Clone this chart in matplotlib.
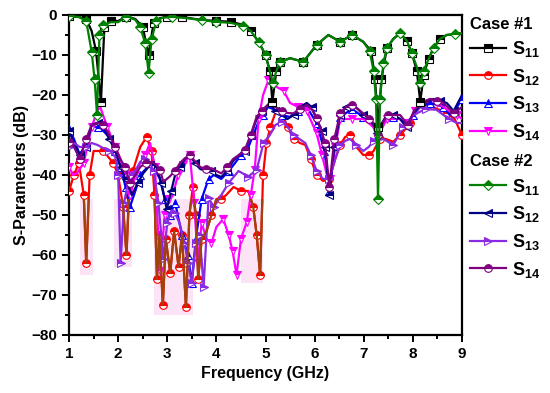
import matplotlib
matplotlib.use("Agg")
import numpy as np
from matplotlib import pyplot as plt
from matplotlib.patches import Rectangle

plt.rcParams["font.family"] = ["Liberation Sans", "DejaVu Sans"]
plt.rcParams["font.weight"] = "bold"
plt.rcParams["mathtext.fontset"] = "custom"
plt.rcParams["mathtext.rm"] = "Liberation Sans:bold"
plt.rcParams["mathtext.bf"] = "Liberation Sans:bold"
plt.rcParams["mathtext.default"] = "bf"

# ---- case #1 ----
f11_c1 = [1.0, 1.2, 1.35, 1.46, 1.55, 1.65, 1.72, 1.85, 2.0, 2.17, 2.35, 2.5, 2.62, 2.72, 2.85, 3.0,
          3.3, 3.67, 4.0, 4.3, 4.55, 4.7, 4.86, 5.0, 5.09, 5.14, 5.22, 5.3, 5.5, 5.77, 6.04, 6.28,
          6.52, 6.76, 6.99, 7.15, 7.23, 7.29, 7.36, 7.47, 7.6, 7.74, 7.88, 7.98, 8.08, 8.15, 8.22,
          8.32, 8.42, 8.55, 8.69, 8.85, 9.0]
s11_c1 = [-0.3, -0.5, -1, -4, -9, -21.7, -3, -1.5, -1.5, -0.4, -1, -3, -10, -2, -0.8, -0.5,
          -0.5, -1.2, -1.5, -1.7, -2.5, -4, -6.7, -10, -14, -21.7, -14, -11.7, -10.8, -11.7, -7.5, -5,
          -6.7, -5, -6.7, -9, -16, -28, -16, -8.3, -6, -4.6, -6.5, -9.6, -14, -21.7, -15,
          -11, -8.3, -6, -5, -4.8, -4.5]

f12_c1 = [1.0, 1.1, 1.2, 1.3, 1.35, 1.42, 1.5, 1.7, 1.9, 2.0, 2.1, 2.17, 2.22, 2.3, 2.45, 2.58,
          2.68, 2.74, 2.79, 2.84, 2.91, 2.97, 3.06, 3.14, 3.23, 3.3, 3.38, 3.45, 3.52, 3.58, 3.63,
          3.7, 3.8, 3.9, 4.0, 4.1, 4.2, 4.35, 4.5, 4.65, 4.75, 4.82, 4.89, 4.95, 5.02, 5.1, 5.2,
          5.33, 5.45, 5.57, 5.7, 5.81, 5.92, 6.04, 6.17, 6.3, 6.42, 6.52, 6.62, 6.72, 6.85, 6.99,
          7.1, 7.2, 7.33, 7.45, 7.6, 7.74, 7.85, 7.95, 8.1, 8.3, 8.5, 8.7, 8.85, 9.0]
s12_c1 = [-44, -40, -37, -45, -62, -40, -34, -34, -37, -40, -48, -60, -45, -39, -33, -30.5,
          -34, -45, -66, -55, -72.5, -56, -64.5, -54, -63, -55, -73, -50, -43, -50, -66,
          -56, -54, -50, -46, -46, -45, -43, -44, -44, -48, -55, -65, -40, -32, -28, -24.5,
          -24.5, -28, -31, -32, -32.5, -36, -40, -41.5, -41, -36, -32.5, -30.5, -30, -33, -35,
          -35, -34, -31, -31, -31.7, -30, -28.5, -27, -23, -22.5, -23.5, -24.5, -26, -30]

f13_c1 = [1.0, 1.1, 1.22, 1.35, 1.46, 1.6, 1.7, 1.85, 1.94, 2.05, 2.15, 2.24, 2.35, 2.45, 2.6,
          2.72, 2.85, 2.95, 3.05, 3.16, 3.3, 3.42, 3.5, 3.58, 3.7, 3.84, 3.95, 4.1, 4.25, 4.38,
          4.5, 4.62, 4.75, 4.85, 4.95, 5.05, 5.15, 5.33, 5.5, 5.67, 5.84, 6.04, 6.2, 6.3, 6.42,
          6.52, 6.76, 6.99, 7.2, 7.29, 7.4, 7.6, 7.74, 7.88, 8.0, 8.15, 8.35, 8.5, 8.62, 8.75,
          8.9, 9.0]
s13_c1 = [-28.5, -31, -35, -32, -28, -28, -29, -31, -34, -38, -43, -48, -44, -40, -38,
          -38, -41, -46, -50, -47, -55, -60, -67, -56, -46, -41, -40, -41, -39, -37,
          -35, -34, -30, -27, -25, -23, -23.5, -25, -25.5, -24, -23, -27, -34, -44, -32,
          -25.5, -23.5, -25.5, -28, -30, -27, -25.5, -26, -28, -25, -23, -22, -22.5, -23, -25,
          -23, -21]

f14_c1 = [1.0, 1.08, 1.16, 1.3, 1.46, 1.62, 1.78, 1.94, 2.05, 2.14, 2.25, 2.35, 2.45, 2.55,
          2.65, 2.75, 2.85, 2.95, 3.03, 3.12, 3.22, 3.33, 3.46, 3.55, 3.62, 3.7, 3.8, 3.9, 4.0,
          4.14, 4.25, 4.33, 4.41, 4.5, 4.62, 4.7, 4.78, 4.86, 4.95, 5.06, 5.23, 5.37, 5.5, 5.67,
          5.84, 6.04, 6.15, 6.25, 6.32, 6.42, 6.52, 6.76, 6.99, 7.2, 7.3, 7.47, 7.74, 7.9, 8.05,
          8.2, 8.35, 8.5, 8.62, 8.75, 8.9, 9.0]
s14_c1 = [-38, -40, -39.6, -37, -28, -22.5, -28, -33, -36, -40, -45, -40, -37, -35,
          -32, -38, -64, -50, -46, -44.6, -40, -37.5, -35, -47, -62, -52, -56, -57, -53,
          -51, -55, -59, -65, -56, -51.7, -45, -38.7, -26, -20, -16.3, -18, -19, -22, -23,
          -24, -29.6, -35, -40, -41, -33, -26, -26, -26, -28, -30, -26, -26, -27, -24,
          -22, -21, -22, -23, -24, -25, -26]

# ---- case #2 ----
f11_c2 = [1.0, 1.2, 1.35, 1.46, 1.52, 1.57, 1.62, 1.7, 1.85, 2.0, 2.17, 2.35, 2.45, 2.55, 2.62,
          2.68, 2.78, 2.9, 3.1, 3.4, 3.7, 4.0, 4.3, 4.55, 4.7, 4.86, 5.0, 5.09, 5.15, 5.22, 5.3,
          5.5, 5.77, 6.04, 6.28, 6.52, 6.76, 6.99, 7.12, 7.2, 7.25, 7.29, 7.33, 7.4, 7.47, 7.6,
          7.74, 7.88, 7.98, 8.08, 8.15, 8.22, 8.32, 8.42, 8.55, 8.69, 8.85, 9.0]
s11_c2 = [-0.3, -0.5, -1.5, -9.2, -16, -25, -5, -2.5, -1.8, -1.8, -0.4, -1.2, -3.1, -7, -14.4,
          -6, -1.5, -0.7, -0.5, -0.8, -1.3, -1.7, -2, -2.7, -4, -6.7, -10, -14.2, -17, -14, -11.7,
          -10.8, -11.7, -7.5, -5, -6.7, -5, -6.7, -9, -14, -21, -46, -21, -12, -8.3, -6,
          -4.6, -6.5, -9.6, -13, -17, -14, -11, -8.3, -6, -5, -4.8, -4.5]

f12_c2 = [1.0, 1.1, 1.22, 1.35, 1.46, 1.58, 1.7, 1.82, 1.94, 2.05, 2.15, 2.28, 2.4, 2.51, 2.65,
          2.78, 2.88, 2.99, 3.08, 3.16, 3.26, 3.36, 3.46, 3.56, 3.67, 3.78, 3.9, 4.0, 4.1, 4.22,
          4.34, 4.46, 4.58, 4.7, 4.82, 4.92, 5.09, 5.2, 5.33, 5.45, 5.57, 5.7, 5.84, 5.94, 6.04,
          6.14, 6.21, 6.3, 6.4, 6.52, 6.64, 6.76, 6.88, 6.99, 7.1, 7.2, 7.27, 7.37, 7.47, 7.6,
          7.74, 7.88, 8.0, 8.15, 8.28, 8.42, 8.55, 8.69, 8.83, 9.0]
s12_c2 = [-29, -32, -35, -33, -27.5, -27, -28, -31, -34, -38, -41, -45, -42, -39.6, -37.5,
          -38, -42, -48.5, -44, -40, -38, -36, -35, -37, -38.5, -39, -39, -40, -40.5, -39,
          -36.5, -35, -34, -30, -26, -24, -22, -24, -25, -26, -25, -23, -22, -23, -26,
          -29, -33, -45, -33, -25, -23, -22.5, -23.5, -25, -26, -27.5, -29.5, -27, -25, -25,
          -26, -28, -25, -22.5, -21.5, -21, -21.5, -22, -24, -20]

f13_c2 = [1.0, 1.1, 1.22, 1.35, 1.46, 1.58, 1.7, 1.82, 1.94, 2.0, 2.05, 2.12, 2.2, 2.3, 2.45,
          2.55, 2.65, 2.72, 2.82, 2.92, 3.0, 3.08, 3.16, 3.25, 3.35, 3.42, 3.5, 3.58, 3.66, 3.74,
          3.84, 3.95, 4.1, 4.25, 4.45, 4.65, 4.82, 4.96, 5.09, 5.2, 5.33, 5.45, 5.57, 5.69, 5.81,
          5.92, 6.04, 6.17, 6.3, 6.42, 6.52, 6.62, 6.72, 6.85, 6.99, 7.1, 7.2, 7.4, 7.6, 7.8,
          8.01, 8.26, 8.48, 8.73, 8.9, 9.0]
s13_c2 = [-33, -32, -33, -33, -32, -32.5, -33.3, -34, -35.4, -40, -62, -47, -42, -40, -36.7,
          -36, -37, -39, -47, -61, -52, -49, -49.6, -52, -57, -62, -67, -57, -55, -68,
          -45.8, -48, -45, -42, -39, -40.4, -38.7, -32, -30, -27.5, -26.7, -28, -30, -31, -32,
          -35, -39, -41, -41, -36, -32.5, -31.5, -31, -32.5, -34, -33, -31.5, -31, -32.5, -28,
          -25, -23.5, -23.7, -26, -27, -27]

f14_c2 = [1.0, 1.1, 1.22, 1.35, 1.46, 1.58, 1.7, 1.82, 1.94, 2.04, 2.14, 2.24, 2.35, 2.45,
          2.56, 2.68, 2.78, 2.85, 2.92, 3.04, 3.16, 3.26, 3.36, 3.46, 3.56, 3.67, 3.78, 3.9, 4.0,
          4.1, 4.22, 4.34, 4.46, 4.58, 4.7, 4.82, 4.92, 5.09, 5.2, 5.33, 5.45, 5.57, 5.7, 5.84,
          5.94, 6.04, 6.14, 6.21, 6.3, 6.4, 6.52, 6.64, 6.76, 6.88, 6.99, 7.1, 7.2, 7.29, 7.38,
          7.49, 7.6, 7.74, 7.9, 8.02, 8.15, 8.35, 8.5, 8.62, 8.75, 8.83, 9.0]
s14_c2 = [-31.7, -33, -36, -31, -27.5, -27, -27.5, -30, -33, -36, -38, -42, -40, -38,
          -37, -36.7, -37.5, -38.7, -41.7, -40.5, -39, -37, -35.8, -35, -36.5, -38, -38.5, -38.3, -39,
          -39.6, -38, -36, -35, -33.7, -30, -25.4, -24, -22, -23, -24, -24.5, -24.6, -23.5, -22.5,
          -23.5, -25.8, -29, -32, -43, -31, -24.6, -23, -22.5, -23.5, -24.6, -26, -27, -30, -27,
          -25, -25, -25, -27.5, -24, -22, -21, -21.5, -22, -23.5, -24.6, -23]

# faint pink blocks behind the deepest nulls (start GHz, end GHz, lowest dB)
pink_start = [1.22, 1.92, 2.72, 4.5]
pink_end = [1.48, 2.28, 3.52, 4.95]
pink_low = [-65, -63, -75, -67]

labels = ["S$_{11}$", "S$_{12}$", "S$_{13}$", "S$_{14}$"]

case1 = [(f11_c1, s11_c1, "black", "s"), (f12_c1, s12_c1, "#ff0000", "o"),
         (f13_c1, s13_c1, "#0000ff", "^"), (f14_c1, s14_c1, "#ff00ff", "v")]
case2 = [(f11_c2, s11_c2, "#008000", "D"), (f12_c2, s12_c2, "#000080", "<"),
         (f13_c2, s13_c2, "#8a2be2", ">"), (f14_c2, s14_c2, "#800080", "o")]

for f, s, c, m in case1 + case2:
    if len(f) != len(s):
        raise ValueError(f"length mismatch {c}: {len(f)} vs {len(s)}")

fig = plt.figure(figsize=(5.5, 3.93), dpi=100)
ax = fig.add_axes([0.1255, 0.1476, 0.7145, 0.8143])

for x0, x1, lo in zip(pink_start, pink_end, pink_low):
    ax.fill_between([x0, x1], lo, -46, color="#fde3f6", lw=0, zorder=1)

handles1, handles2 = [], []
for case, store in ((case1, handles1), (case2, handles2)):
    for i, (f, s, c, m) in enumerate(case):
        ms = 5 if m == "D" else 5.5
        ln, = ax.plot(f, s, color=c, lw=1.6, marker=m, ms=ms, markevery=0.045,
                      fillstyle="top", markerfacecoloralt="white", mec=c, mew=0.8,
                      label=labels[i], zorder=3 if i else 4)
        store.append(ln)

# deep nulls of case #1 S12 look brownish in the original
dip, = ax.plot(f12_c1, s12_c1, color="#a0420c", lw=1.6, zorder=3.5)
dip.set_clip_path(Rectangle((1, -80), 8, 34, transform=ax.transData))

ax.set_xlim(1, 9)
ax.set_ylim(-80, 0)
ax.set_xticks(np.arange(1, 10, 1))
ax.set_xticks(np.arange(1.5, 9, 1), minor=True)
ax.set_yticks(np.arange(-80, 1, 10))
ax.set_yticks(np.arange(-75, 0, 10), minor=True)
ax.tick_params(which="both", direction="out", width=1.4, labelsize=11)
ax.tick_params(which="major", length=5)
ax.tick_params(which="minor", length=3)
for sp in ax.spines.values():
    sp.set_linewidth(1.6)

ax.set_xlabel("Frequency (GHz)", fontsize=11.5, fontweight="bold", labelpad=4)
ax.set_ylabel("S-Parameters (dB)", fontsize=11.5, fontweight="bold", labelpad=2)

leg_kw = dict(loc="upper left", frameon=False, fontsize=13, handlelength=2.0,
              handletextpad=0.35, labelspacing=0.42, borderaxespad=0, borderpad=0,
              alignment="left", title_fontproperties={"weight": "bold", "size": 12})
leg1 = ax.legend(handles=handles1, title="Case #1", bbox_to_anchor=(1.02, 0.995), **leg_kw)
ax.add_artist(leg1)
leg2 = ax.legend(handles=handles2, title="Case #2", bbox_to_anchor=(1.02, 0.565), **leg_kw)

fig.savefig("out.png", dpi=100)
